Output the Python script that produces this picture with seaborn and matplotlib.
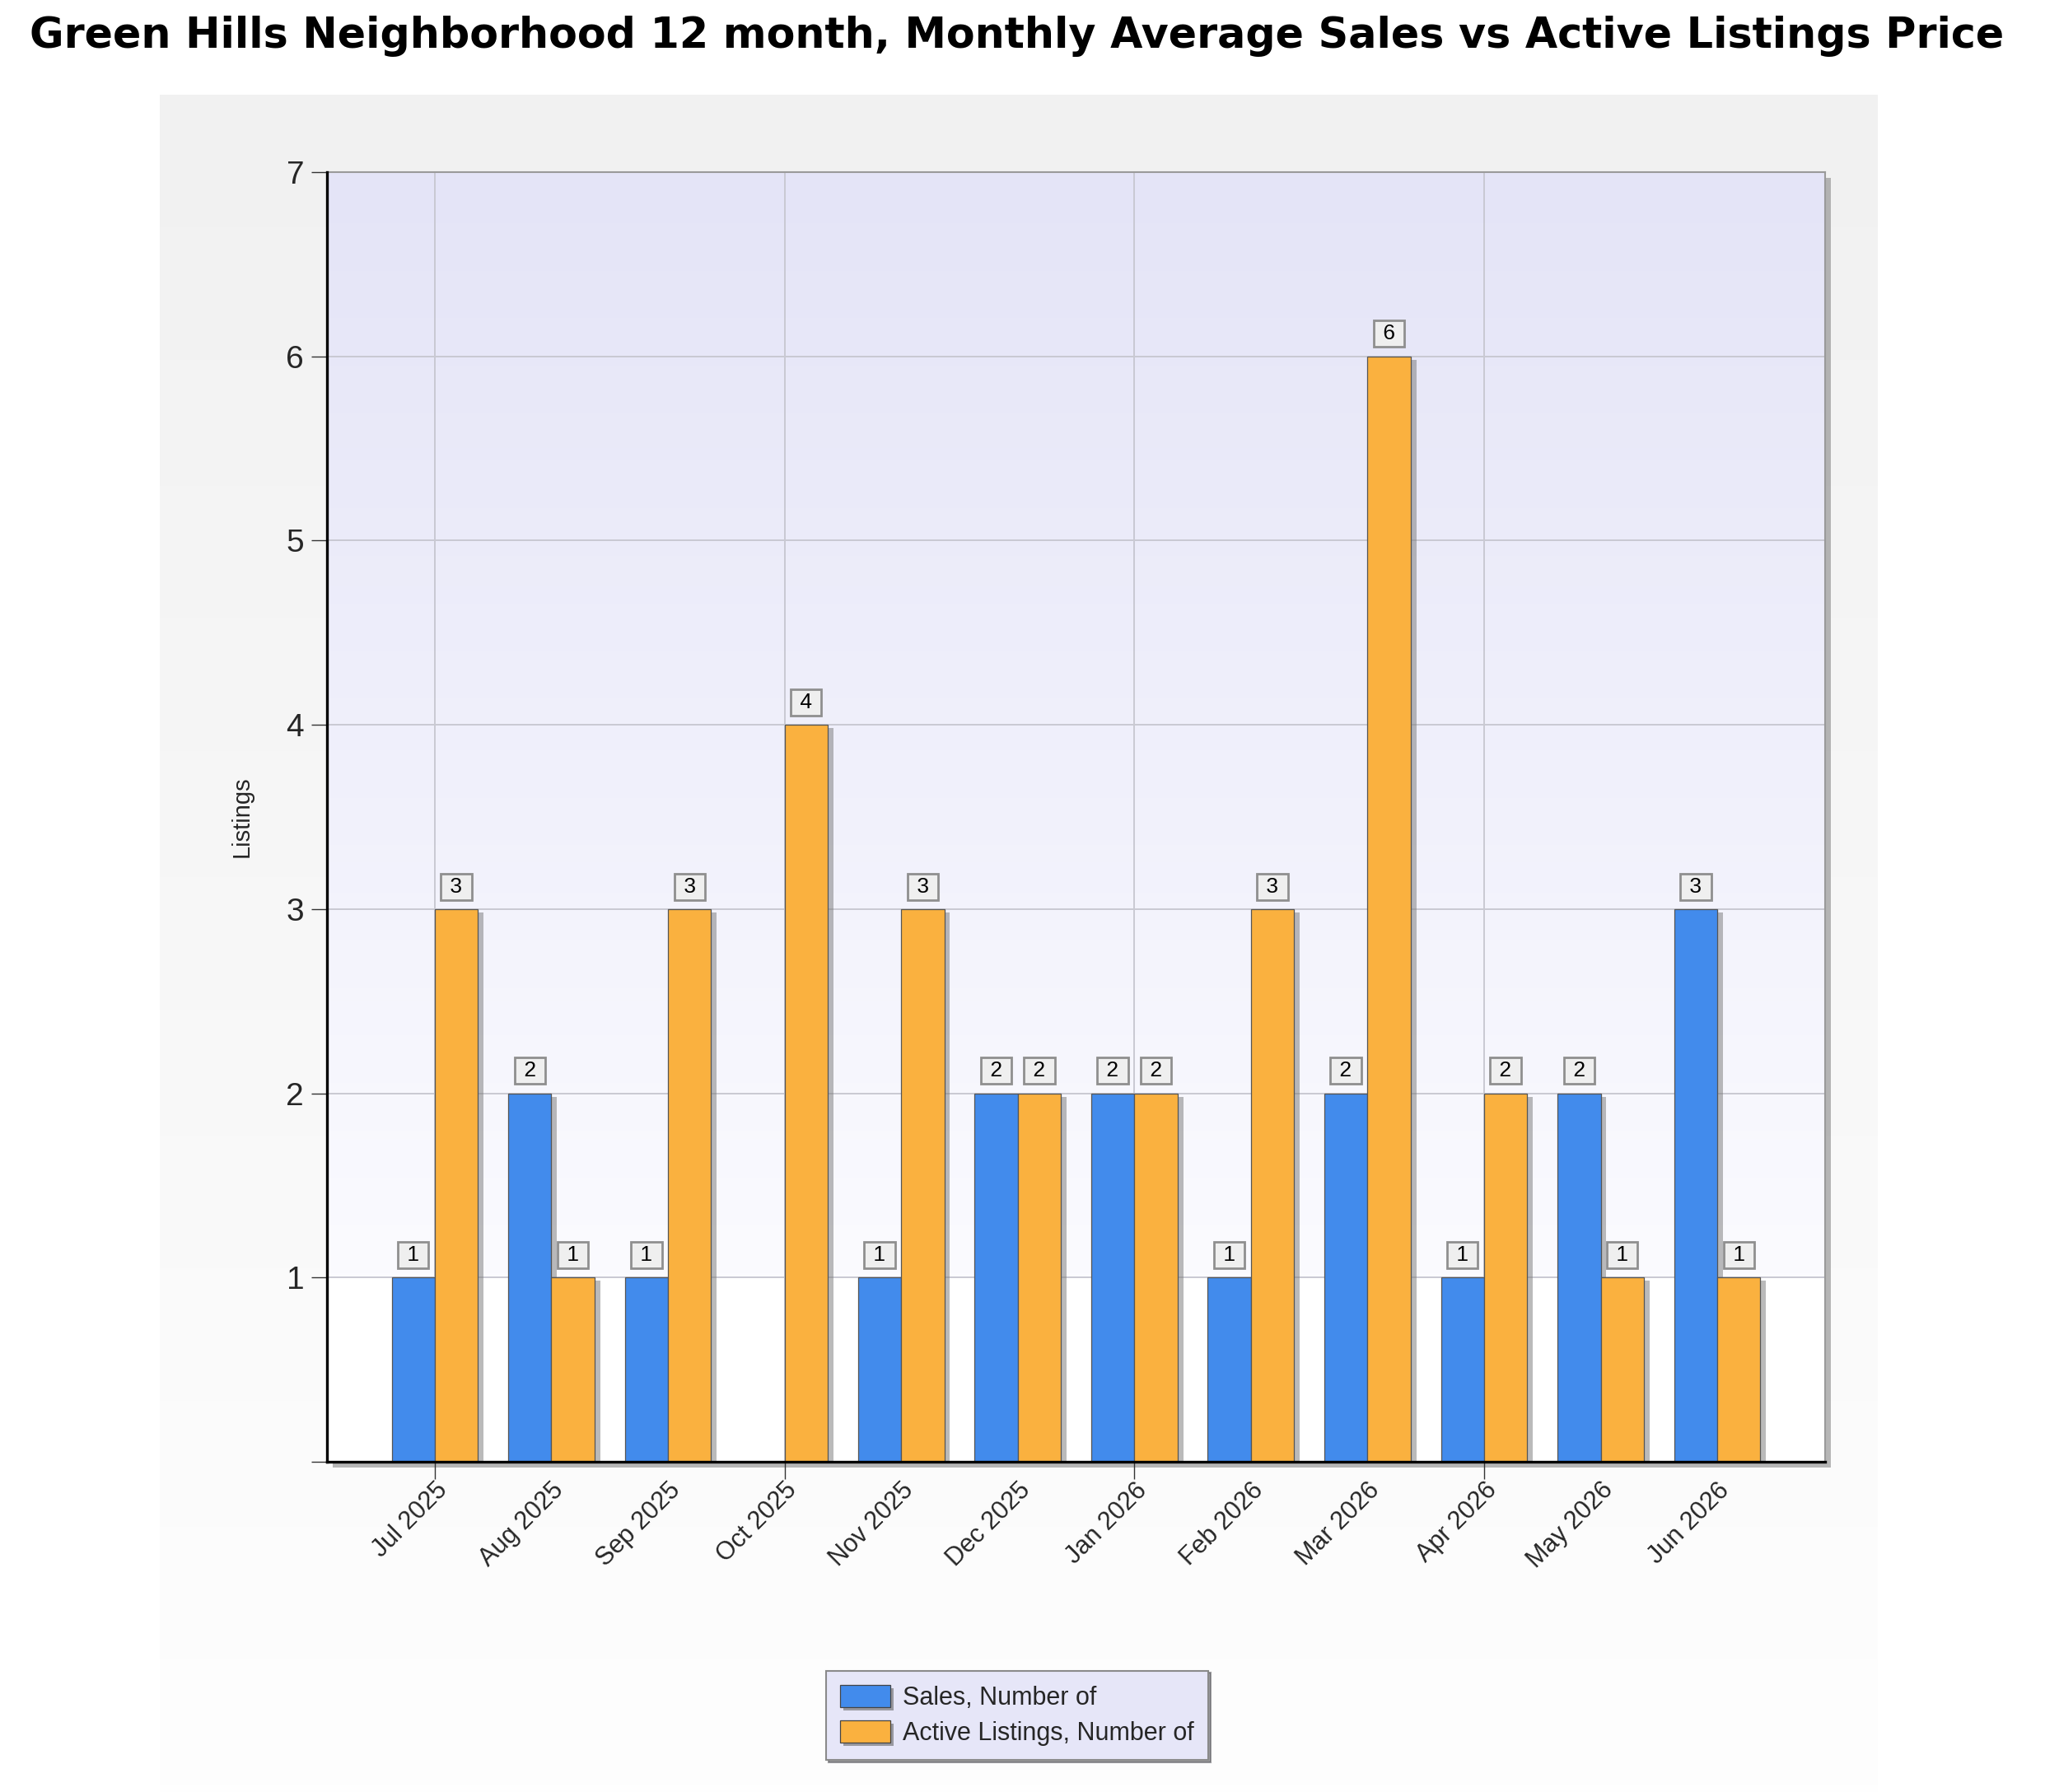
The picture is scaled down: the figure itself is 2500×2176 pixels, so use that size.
import matplotlib
matplotlib.use('Agg')
import numpy as np
import pandas as pd
import seaborn as sns
import matplotlib.pyplot as plt
import matplotlib.patheffects as pe
from matplotlib.colors import LinearSegmentedColormap

months = ["Jul 2025", "Aug 2025", "Sep 2025", "Oct 2025", "Nov 2025", "Dec 2025",
          "Jan 2026", "Feb 2026", "Mar 2026", "Apr 2026", "May 2026", "Jun 2026"]
sales = [1, 2, 1, 0, 1, 2, 2, 1, 2, 1, 2, 3]
active = [3, 1, 3, 4, 3, 2, 2, 3, 6, 2, 1, 1]
series_names = ["Sales, Number of", "Active Listings, Number of"]
colors = ["#428bec", "#fab13f"]

title = "Green Hills Neighborhood 12 month, Monthly Average Sales vs Active Listings Price"

df = pd.DataFrame({
    "Month": months * 2,
    "Series": [series_names[0]] * len(months) + [series_names[1]] * len(months),
    "Value": sales + active,
})

sns.set_theme(style="white")
plt.rcParams['font.family'] = ['Liberation Sans', 'DejaVu Sans']

W, H = 2500, 2176
fig = plt.figure(figsize=(W / 100, H / 100), dpi=100)
fig.patch.set_facecolor("white")

# light grey panel behind everything
bg = fig.add_axes([194 / W, 0, (2280 - 194) / W, 1 - 115 / H], zorder=-10)
grad = np.linspace(0, 1, 256).reshape(-1, 1)
bg.imshow(grad, aspect='auto', cmap=LinearSegmentedColormap.from_list("bgc", ["#f1f1f1", "#fefefe"]),
          extent=[0, 1, 0, 1])
bg.set_axis_off()

ax = fig.add_axes([397 / W, 1 - 1775 / H, (2216 - 397) / W, (1775 - 209) / H])
ax.set_facecolor("white")
ax.patch.set_path_effects([pe.SimplePatchShadow(offset=(5, -5), shadow_rgbFace="#888888", alpha=0.6),
                           pe.Normal()])

sns.barplot(data=df, x="Month", y="Value", hue="Series", order=months, hue_order=series_names,
            palette=colors, width=0.74, edgecolor="#555555", linewidth=0.9, ax=ax, saturation=1)

xlim = (-0.925, 11.925)
ax.imshow(np.linspace(1, 0, 256).reshape(-1, 1), aspect='auto',
          cmap=LinearSegmentedColormap.from_list("plc", ["#fbfbff", "#e4e4f7"]),
          extent=[xlim[0], xlim[1], 1, 7], zorder=0.1)
ax.set_xlim(*xlim)
ax.set_ylim(0, 7)

for bar in ax.patches:
    bar.set_path_effects([pe.SimplePatchShadow(offset=(5, -3), shadow_rgbFace="#777777", alpha=0.5),
                          pe.Normal()])
    bar.set_zorder(2)

for container in ax.containers:
    for bar in container:
        h = bar.get_height()
        if h > 0:
            ax.annotate(f" {h:.0f} ", (bar.get_x() + bar.get_width() / 2, h), xytext=(0, 11),
                        textcoords="offset points", ha="center", va="bottom", fontsize=19,
                        color="black", zorder=5,
                        bbox=dict(boxstyle="square,pad=0.15", fc="#efefef", ec="#8f8f8f", lw=2))

# axes cosmetics
ax.set_yticks(range(0, 8))
ax.set_yticklabels([""] + [str(i) for i in range(1, 8)])
ax.tick_params(axis="y", which="major", length=14, width=1, color="#333333", labelsize=28, pad=6, left=True)
ax.set_xticks(range(len(months)))
ax.set_xticklabels(months, rotation=45, ha="right", rotation_mode="anchor", fontsize=22)
ax.tick_params(axis="x", which="major", length=0, pad=14)
ax.xaxis.remove_overlapping_locs = False
ax.set_xticks([0, 3, 6, 9], minor=True)
ax.tick_params(axis="x", which="minor", length=15, width=1, color="#333333", bottom=True)
ax.set_axisbelow(True)
ax.grid(axis="y", which="major", color="#c9c9d2", lw=1.4)
ax.grid(axis="x", which="minor", color="#c9c9d2", lw=1.4)
ax.grid(axis="x", which="major", visible=False)

ax.set_xlabel("")
ax.set_ylabel("Listings", fontsize=21)
ax.yaxis.set_label_coords(-0.049, 0.5)

for side in ["left", "bottom"]:
    ax.spines[side].set_color("black")
    ax.spines[side].set_linewidth(2.4)
    ax.spines[side].set_zorder(6)
for side in ["top", "right"]:
    ax.spines[side].set_color("#9a9a9a")
    ax.spines[side].set_linewidth(1.5)

# legend
leg_handles, leg_labels = ax.get_legend_handles_labels()
ax.get_legend().remove()
leg = fig.legend(leg_handles, leg_labels, loc="lower center", bbox_to_anchor=(0.494, 0.018),
                 fontsize=22, frameon=True, fancybox=False, shadow=True, facecolor="#e6e6f8",
                 edgecolor="#8a8a8a", framealpha=1, handlelength=2.0, handleheight=1.0,
                 borderpad=0.55, labelspacing=0.4, handletextpad=0.5, borderaxespad=0)
leg.get_frame().set_linewidth(1.5)
for p in leg.get_patches():
    p.set_edgecolor("#444444")
    p.set_path_effects([pe.SimplePatchShadow(offset=(3, -3), shadow_rgbFace="#666666", alpha=0.6),
                        pe.Normal()])

fig.text(0.494, 1 - 44 / H, title, ha="center", va="center", fontsize=36.5, fontweight="bold",
         color="black", family=["DejaVu Sans"])

plt.savefig("out.png", dpi=100)
plt.close()
